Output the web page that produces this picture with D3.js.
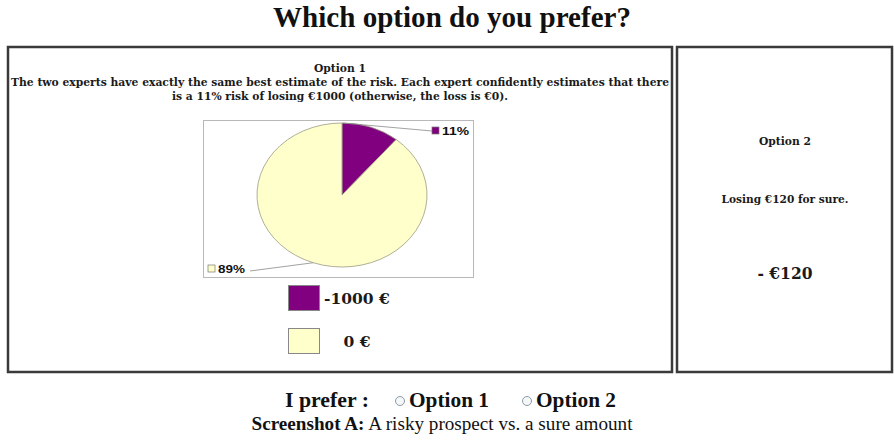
<!DOCTYPE html>
<html lang="en">
<head>
<meta charset="UTF-8">
<title>Which option do you prefer?</title>
<script src="https://cdn.jsdelivr.net/npm/d3@7"></script>
<style>
  body { margin: 0; background: #fff; }
  text { font-family: "Liberation Serif", "Times New Roman", serif; fill: #111; }
  .box { font-family: "DejaVu Serif", serif; font-weight: bold; fill: #1a1a1a; }
  .sans { font-family: "Liberation Sans", Arial, sans-serif; }
</style>
</head>
<body>
<svg id="chart" width="894" height="443"></svg>
<script>
// data
var categories = ["-1000 €", "0 €"];
var shares = [11, 89];
var sliceColors = ["#800080", "#ffffcc"];
var option1Lines = [
  "Option 1",
  "The two experts have exactly the same best estimate of the risk. Each expert confidently estimates that there",
  "is a 11% risk of losing €1000 (otherwise, the loss is €0)."
];
var option2Lines = ["Option 2", "Losing €120 for sure."];
var sureAmount = "- €120";
var choices = ["Option 1", "Option 2"];

var svg = d3.select("#chart");

// helper: text stretched to a measured width
function fitText(sel, w) {
  return sel.attr("textLength", w).attr("lengthAdjust", "spacingAndGlyphs");
}

// title
fitText(svg.append("text")
  .attr("x", 452).attr("y", 27)
  .attr("text-anchor", "middle")
  .attr("font-size", "29px").attr("font-weight", "bold")
  .text("Which option do you prefer?"), 358);

// the two option boxes
[[8, 664], [677, 215]].forEach(function(b) {
  svg.append("rect").attr("x", b[0]).attr("y", 47).attr("width", b[1]).attr("height", 325)
    .attr("fill", "none").attr("stroke", "#3a3a3a").attr("stroke-width", 2.5);
});

// option 1 text
var ys1 = [72, 86, 100];
var ws1 = [52, 658, 336];
option1Lines.forEach(function(t, i) {
  fitText(svg.append("text").attr("class", "box")
    .attr("x", 340).attr("y", ys1[i])
    .attr("text-anchor", "middle")
    .attr("font-size", "10.5px")
    .text(t), ws1[i]);
});

// pie chart frame
svg.append("rect").attr("x", 203.5).attr("y", 120.5).attr("width", 270).attr("height", 157)
  .attr("fill", "#fff").attr("stroke", "#b8b8b8");

var rx = 85, ry = 72, cx = 342, cy = 195;
var pie = d3.pie().sort(null).value(function(d) { return d; });
var arcs = pie(shares);
var arc = d3.arc().innerRadius(0).outerRadius(rx);

var pieG = svg.append("g")
  .attr("transform", "translate(" + cx + "," + cy + ") scale(1," + (ry / rx) + ")");
pieG.selectAll("path")
  .data(arcs)
  .enter().append("path")
  .attr("d", arc)
  .attr("fill", function(d, i) { return sliceColors[i]; })
  .attr("stroke", "#9a9a80")
  .attr("stroke-width", 0.8)
  .attr("vector-effect", "non-scaling-stroke");

// percent labels with leader lines
var labelPos = [[432, 131], [208, 269]];
var leaderEnd = [[432, 131], [250, 271]];
arcs.forEach(function(d, i) {
  var a = i === 0 ? d.startAngle + 0.01 : (d.startAngle + d.endAngle) / 2;
  var px = cx + Math.sin(a) * rx, py = cy - Math.cos(a) * ry;
  svg.append("line")
    .attr("x1", px).attr("y1", py)
    .attr("x2", leaderEnd[i][0]).attr("y2", leaderEnd[i][1])
    .attr("stroke", "#8a8a8a").attr("stroke-width", 0.8);
  svg.append("rect")
    .attr("x", labelPos[i][0]).attr("y", labelPos[i][1] - 4)
    .attr("width", 7).attr("height", 7)
    .attr("fill", sliceColors[i]).attr("stroke", "#777").attr("stroke-width", 0.7);
  fitText(svg.append("text").attr("class", "sans")
    .attr("x", labelPos[i][0] + 10).attr("y", labelPos[i][1] + 3.5)
    .attr("font-size", "11px").attr("font-weight", "bold").attr("fill", "#333")
    .text(d3.format(".0f")(d.data) + "%"), 27);
});

// legend
var legY = d3.scalePoint().domain(categories).range([298, 341]);
var leg = svg.selectAll(".leg").data(categories).enter().append("g").attr("class", "leg");
leg.append("rect")
  .attr("x", 288.5).attr("y", function(d) { return legY(d) - 12.5; })
  .attr("width", 31).attr("height", 25)
  .attr("fill", function(d, i) { return sliceColors[i]; })
  .attr("stroke", "#888").attr("stroke-width", 1);
leg.append("text").attr("class", "box")
  .attr("x", function(d, i) { return i === 0 ? 324 : 357; })
  .attr("y", function(d) { return legY(d) + 5.5; })
  .attr("text-anchor", function(d, i) { return i === 0 ? "start" : "middle"; })
  .attr("font-size", "15.5px")
  .text(function(d) { return d; });

// option 2 text
fitText(svg.append("text").attr("class", "box").attr("x", 785).attr("y", 145).attr("text-anchor", "middle")
  .attr("font-size", "10.5px").text(option2Lines[0]), 52);
fitText(svg.append("text").attr("class", "box").attr("x", 785).attr("y", 203).attr("text-anchor", "middle")
  .attr("font-size", "10.5px").text(option2Lines[1]), 127);
fitText(svg.append("text").attr("class", "box").attr("x", 785).attr("y", 279).attr("text-anchor", "middle")
  .attr("font-size", "16px").text(sureAmount), 55);

// radio row
fitText(svg.append("text").attr("x", 285).attr("y", 407)
  .attr("font-size", "21px").attr("font-weight", "bold").text("I prefer :"), 84);
var radioX = d3.scalePoint().domain(choices).range([400, 527]);
choices.forEach(function(c) {
  svg.append("circle").attr("cx", radioX(c)).attr("cy", 401).attr("r", 4.5)
    .attr("fill", "#f6f7f8").attr("stroke", "#8a9aa8").attr("stroke-width", 1);
  fitText(svg.append("text").attr("x", radioX(c) + 9).attr("y", 407)
    .attr("font-size", "21px").attr("font-weight", "bold").text(c), 80);
});

// caption
var cap = fitText(svg.append("text").attr("x", 442).attr("y", 430).attr("text-anchor", "middle")
  .attr("font-size", "19px"), 381);
cap.append("tspan").attr("font-weight", "bold").text("Screenshot A:");
cap.append("tspan").text(" A risky prospect vs. a sure amount");
</script>
</body>
</html>
